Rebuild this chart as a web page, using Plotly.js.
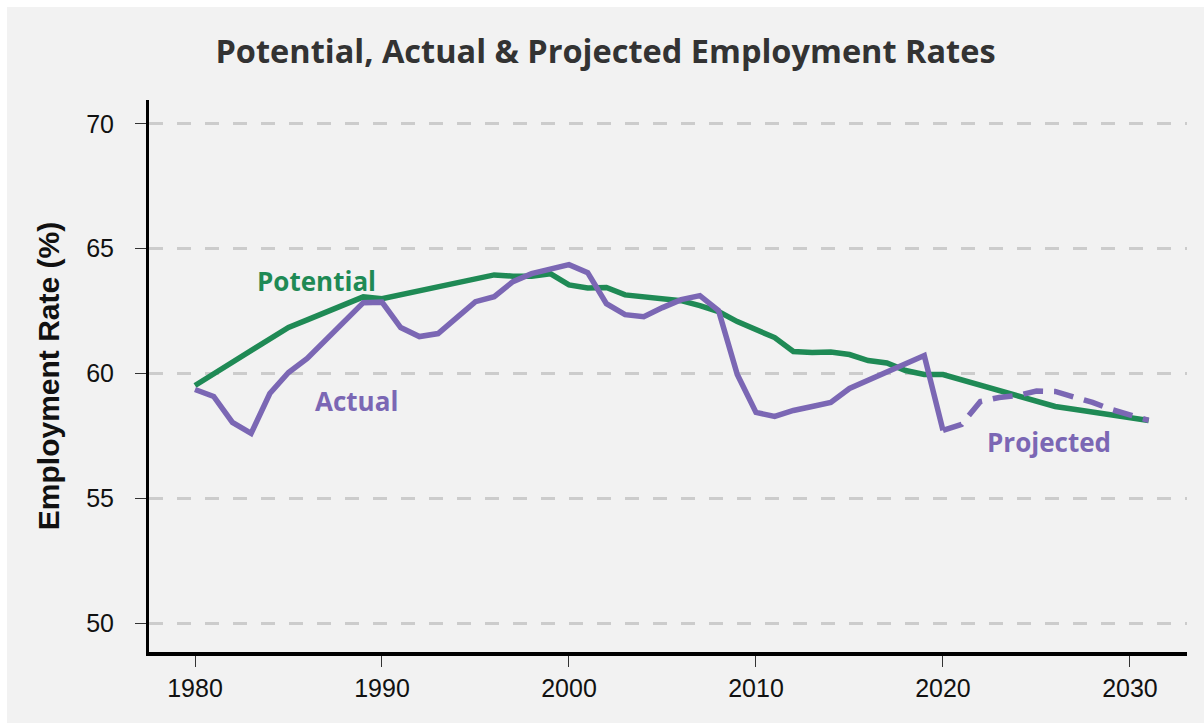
<!DOCTYPE html>
<html>
<head>
<meta charset="utf-8">
<script src="https://cdn.plot.ly/plotly-3.0.1.min.js"></script>
<style>
  html, body { margin:0; padding:0; background:#ffffff; width:1204px; height:723px; overflow:hidden; }
  #chart { position:absolute; left:7px; top:7px; width:1197px; height:716px; }
</style>
</head>
<body>
<div id="chart"></div>
<script>
// Years
const potentialYears = [1980,1981,1982,1983,1984,1985,1986,1987,1988,1989,1990,1991,1992,1993,1994,1995,1996,1997,1998,1999,2000,2001,2002,2003,2004,2005,2006,2007,2008,2009,2010,2011,2012,2013,2014,2015,2016,2017,2018,2019,2020,2021,2022,2023,2024,2025,2026,2027,2028,2029,2030,2031];
const potentialRate = [59.52,59.99,60.45,60.92,61.38,61.85,62.15,62.46,62.76,63.07,63.0,63.16,63.32,63.48,63.64,63.8,63.95,63.9,63.9,64.0,63.55,63.43,63.45,63.15,63.08,63.02,62.92,62.72,62.48,62.08,61.76,61.44,60.88,60.84,60.86,60.76,60.52,60.42,60.12,59.96,59.96,59.75,59.53,59.32,59.1,58.89,58.68,58.57,58.46,58.34,58.23,58.12];

const actualYears = [1980,1981,1982,1983,1984,1985,1986,1987,1988,1989,1990,1991,1992,1993,1994,1995,1996,1997,1998,1999,2000,2001,2002,2003,2004,2005,2006,2007,2008,2009,2010,2011,2012,2013,2014,2015,2016,2017,2018,2019,2020];
const actualRate = [59.36,59.08,58.04,57.6,59.2,60.04,60.6,61.35,62.1,62.84,62.86,61.84,61.48,61.6,62.24,62.88,63.08,63.68,64.0,64.2,64.36,64.04,62.8,62.36,62.28,62.64,62.96,63.12,62.52,59.96,58.44,58.28,58.52,58.68,58.84,59.4,59.73,60.06,60.39,60.72,57.72];

const projectedYears = [2020,2021,2022,2023,2024,2025,2026,2027,2028,2029,2030,2031];
const projectedRate = [57.72,57.96,58.88,59.04,59.12,59.3,59.28,59.08,58.84,58.56,58.32,58.12];

const yTicks = [50,55,60,65,70];
const xTicks = [1980,1990,2000,2010,2020,2030];

const GREEN = '#1f8a55';
const PURPLE = '#7b67b4';

const traces = [
  {x: potentialYears, y: potentialRate, type:'scatter', mode:'lines', name:'Potential',
   line:{color:GREEN, width:5.5, shape:'linear'}, hoverinfo:'skip'},
  {x: projectedYears, y: projectedRate, type:'scatter', mode:'lines', name:'Projected',
   line:{color:PURPLE, width:5.5, dash:'20px,11px'}, hoverinfo:'skip'},
  {x: actualYears, y: actualRate, type:'scatter', mode:'lines', name:'Actual',
   line:{color:PURPLE, width:5.5}, hoverinfo:'skip'}
];

const labelFont = '"Open Sans", Lato, sans-serif';

const layout = {
  width:1197, height:716,
  paper_bgcolor:'#f2f2f2', plot_bgcolor:'#f2f2f2',
  margin:{l:142, r:17, t:93, b:71},
  showlegend:false,
  title:{text:'Potential, Actual & Projected Employment Rates', x:0.5, xanchor:'center', y:0.937, yanchor:'middle',
         font:{family:labelFont, size:32.5, color:'#333333', weight:700}},
  xaxis:{range:[1977.54, 2033.05], tickvals:xTicks, ticktext:xTicks.map(String),
         showgrid:false, zeroline:false, showline:true, linecolor:'#000000', linewidth:4,
         ticks:'outside', ticklen:11, tickwidth:1, tickcolor:'#333333',
         tickfont:{family:'"Liberation Sans", Arial, sans-serif', size:25, color:'#111111'}},
  yaxis:{range:[48.84, 70.96], tickvals:yTicks, ticktext:yTicks.map(String),
         showgrid:true, gridcolor:'#cccccc', gridwidth:3, griddash:'14px,14px',
         zeroline:false, showline:true, linecolor:'#000000', linewidth:3,
         ticks:'outside', ticklen:11, tickwidth:1, tickcolor:'#333333', ticklabelstandoff:16,
         tickfont:{family:'"Liberation Sans", Arial, sans-serif', size:25, color:'#111111'},
         title:{text:'Employment Rate (%)', standoff:18,
                font:{family:'"Liberation Sans", Arial, sans-serif', size:30, color:'#111111', weight:700}}},
  annotations:[
    {x:1983.2, y:63.71, xref:'x', yref:'y', text:'<b>Potential</b>', showarrow:false, xanchor:'left', yanchor:'middle',
     font:{family:labelFont, size:26, color:GREEN}},
    {x:1986.3, y:58.88, xref:'x', yref:'y', text:'<b>Actual</b>', showarrow:false, xanchor:'left', yanchor:'middle',
     font:{family:labelFont, size:26, color:PURPLE}},
    {x:2022.25, y:57.24, xref:'x', yref:'y', text:'<b>Projected</b>', showarrow:false, xanchor:'left', yanchor:'middle',
     font:{family:labelFont, size:26, color:PURPLE}}
  ]
};

Plotly.newPlot('chart', traces, layout, {displayModeBar:false, staticPlot:true});
</script>
</body>
</html>
